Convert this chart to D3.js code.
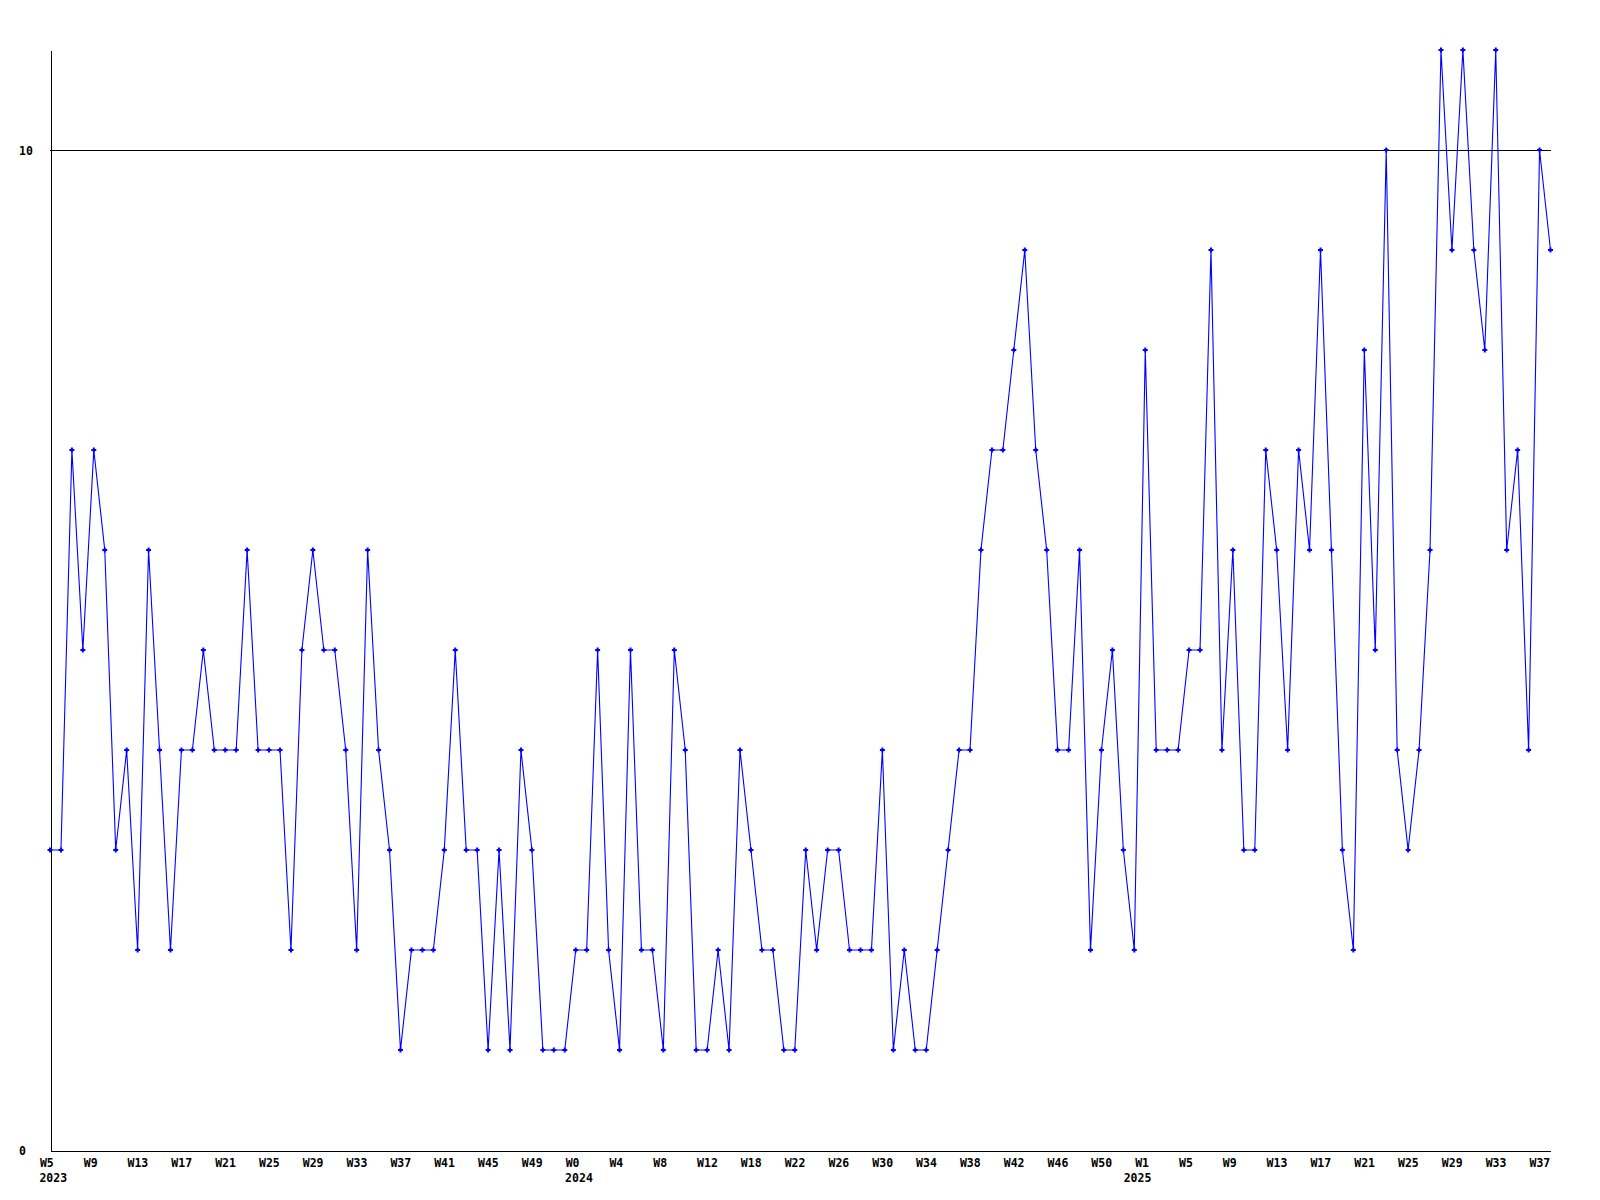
<!DOCTYPE html>
<html>
<head>
<meta charset="utf-8">
<script src="https://cdn.jsdelivr.net/npm/d3@7"></script>
<style>
  html, body { margin: 0; padding: 0; background: #ffffff; }
  svg { display: block; }
  text { font-family: "DejaVu Sans Mono", "Liberation Mono", monospace; font-weight: bold; font-size: 11.5px; fill: #000; }
</style>
</head>
<body>
<svg id="chart" width="1600" height="1200"></svg>
<script>
// Weekly values, 2023 W5 .. 2025 W38
const values = [
  3, 3, 7, 5, 7, 6, 3, 4, 2, 6,
  4, 2, 4, 4, 5, 4, 4, 4, 6, 4,
  4, 4, 2, 5, 6, 5, 5, 4, 2, 6,
  4, 3, 1, 2, 2, 2, 3, 5, 3, 3,
  1, 3, 1, 4, 3, 1, 1, 1, 2, 2,
  5, 2, 1, 5, 2, 2, 1, 5, 4, 1,
  1, 2, 1, 4, 3, 2, 2, 1, 1, 3,
  2, 3, 3, 2, 2, 2, 4, 1, 2, 1,
  1, 2, 3, 4, 4, 6, 7, 7, 8, 9,
  7, 6, 4, 4, 6, 2, 4, 5, 3, 2,
  8, 4, 4, 4, 5, 5, 9, 4, 6, 3,
  3, 7, 6, 4, 7, 6, 9, 6, 3, 2,
  8, 5, 10, 4, 3, 4, 6, 11, 9, 11,
  9, 8, 11, 6, 7, 4, 10, 9
];

// X tick labels, one every 4 weeks (index positions 0,4,8,...)
const weekLabels = [
  "W5","W9","W13","W17","W21","W25","W29","W33","W37","W41","W45","W49",
  "W0","W4","W8","W12","W18","W22","W26","W30","W34","W38","W42","W46","W50",
  "W1","W5","W9","W13","W17","W21","W25","W29","W33","W37"
];
const weekTickIndex = weekLabels.map((d, i) => i * 4);

// Year labels and the week index they sit under
const yearLabels = ["2023", "2024", "2025"];
const yearIndex = [0, 48, 99];

// Y ticks
const yTicks = [0, 10];
const yGrid = [10];

const svg = d3.select("#chart");

const x = d3.scaleLinear().domain([0, values.length - 1]).range([50, 1550.5]);
const y = d3.scaleLinear().domain([0, 11]).range([1150, 50]);

// grid line at 10
svg.append("g").selectAll("line").data(yGrid).join("line")
  .attr("x1", 50).attr("x2", 1551)
  .attr("y1", d => Math.round(y(d)) + 0.5).attr("y2", d => Math.round(y(d)) + 0.5)
  .attr("stroke", "#000").attr("stroke-width", 1).attr("shape-rendering", "crispEdges");

// y axis
const yAxis = svg.append("g").attr("transform", "translate(50.5,0)")
  .call(d3.axisLeft(y).tickValues(yTicks).tickSize(0).tickSizeOuter(0).tickFormat(d3.format("d")));
yAxis.select(".domain").attr("stroke", "#000").attr("shape-rendering", "crispEdges");
yAxis.selectAll("text")
  .attr("text-anchor", "start").attr("x", -31.5).attr("dy", "0.35em")
  .style("font-family", null).style("font-size", null);
yAxis.attr("font-family", null).attr("font-size", null);

// x axis
const xAxis = svg.append("g").attr("transform", "translate(0,1150.5)")
  .call(d3.axisBottom(x).tickValues(weekTickIndex).tickSize(0).tickSizeOuter(0)
    .tickFormat((d, i) => weekLabels[i]));
xAxis.select(".domain").attr("stroke", "#000").attr("shape-rendering", "crispEdges");
xAxis.selectAll("text")
  .attr("text-anchor", "start").attr("dx", -10.6).attr("y", 16.5).attr("dy", 0);
xAxis.attr("font-family", null).attr("font-size", null);

// year labels
svg.append("g").selectAll("text").data(yearLabels).join("text")
  .attr("x", (d, i) => x(yearIndex[i]) - 10.6)
  .attr("y", 1182)
  .attr("text-anchor", "start")
  .text(d => d);

// data line
const line = d3.line().x((d, i) => x(i)).y(d => y(d));
svg.append("path").datum(values)
  .attr("d", line)
  .attr("fill", "none").attr("stroke", "#0000ff").attr("stroke-width", 1.1);

// markers (small plus)
const mk = svg.append("g").attr("fill", "#0000ff");
mk.selectAll("rect.h").data(values).join("rect").attr("class", "h")
  .attr("x", (d, i) => x(i) - 2.5).attr("y", d => y(d) - 1)
  .attr("width", 5).attr("height", 2);
mk.selectAll("rect.v").data(values).join("rect").attr("class", "v")
  .attr("x", (d, i) => x(i) - 1).attr("y", d => y(d) - 2.5)
  .attr("width", 2).attr("height", 5);
</script>
</body>
</html>
